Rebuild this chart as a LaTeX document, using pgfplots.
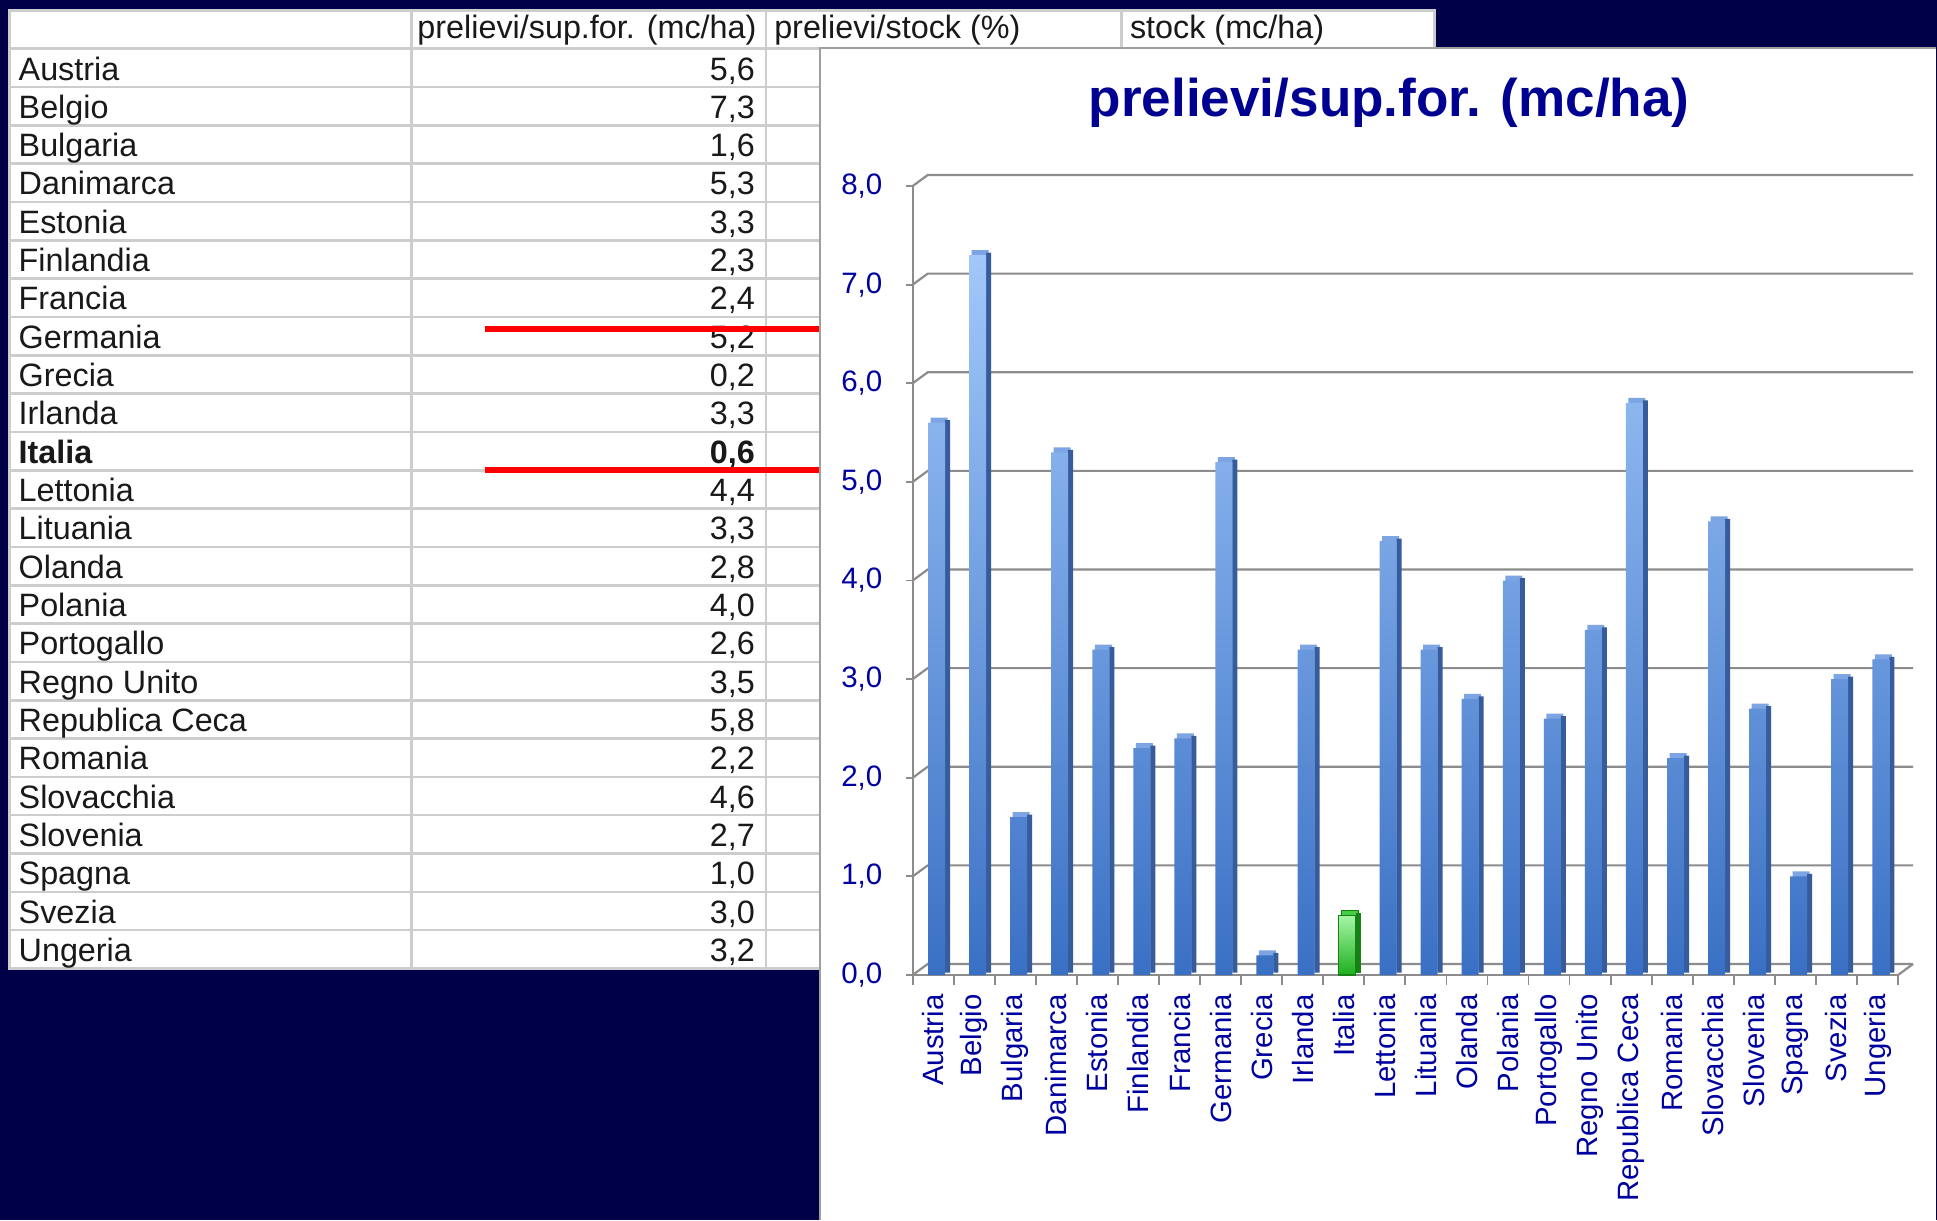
\documentclass[border=0pt]{standalone}
\usepackage{pgfplots}
\pgfplotsset{compat=1.18}
\usepackage{pgfplotstable}
\usepackage{fontspec}
\setmainfont{Liberation Sans}

\definecolor{bg}{RGB}{0,0,72}
\definecolor{navytxt}{RGB}{0,0,160}
\definecolor{titletxt}{RGB}{0,0,145}
\definecolor{gridc}{RGB}{140,140,140}
\definecolor{tline}{RGB}{205,205,205}
\definecolor{txt}{RGB}{25,25,25}
\definecolor{blight}{RGB}{162,200,250}
\definecolor{bdark}{RGB}{58,112,196}
\definecolor{bcap}{RGB}{125,165,228}
\definecolor{bside}{RGB}{55,92,155}
\definecolor{glight}{RGB}{165,245,165}
\definecolor{gdark}{RGB}{30,175,30}
\definecolor{gcap}{RGB}{70,205,70}
\definecolor{gside}{RGB}{20,130,20}

\pgfplotstableread{
x v
0 5.6
1 7.3
2 1.6
3 5.3
4 3.3
5 2.3
6 2.4
7 5.2
8 0.2
9 3.3
11 4.4
12 3.3
13 2.8
14 4.0
15 2.6
16 3.5
17 5.8
18 2.2
19 4.6
20 2.7
21 1.0
22 3.0
23 3.2
}\bluedata
\pgfplotstableread{
x v
10 0.6
}\greendata

\begin{document}
\begin{tikzpicture}
\useasboundingbox (0,0) rectangle (19.37cm,12.2cm);
\fill[bg] (0,0) rectangle (19.37cm,12.2cm);
\begin{scope}[x=0.01cm,y=0.01cm]
  % table
  \fill[white] (10,251.6) rectangle (1435,1210);
  \foreach \i in {0,...,23}
    \draw[tline, line width=0.025cm] (10,{1172-38.35*\i}) -- (1435,{1172-38.35*\i});
  \foreach \xx in {411.5,766.5,1122}
    \draw[tline, line width=0.025cm] (\xx,251.6) -- (\xx,1210);
  \draw[tline, line width=0.03cm] (10,251.6) rectangle (1435,1210);
  \begin{scope}[every node/.style={inner sep=0pt, text=txt, font=\fontsize{9.2pt}{11pt}\selectfont}]
    \node[anchor=base west] at (417,1182) {prelievi/sup.for. (mc/ha)};
    \node[anchor=base west] at (774,1182) {prelievi/stock (\%)};
    \node[anchor=base west] at (1130,1182) {stock (mc/ha)};
    \foreach \nm/\vl [count=\i from 0] in {Austria/5{,}6, Belgio/7{,}3, Bulgaria/1{,}6, Danimarca/5{,}3, Estonia/3{,}3, Finlandia/2{,}3, Francia/2{,}4, Germania/5{,}2, Grecia/0{,}2, Irlanda/3{,}3, \textbf{Italia}/\textbf{0{,}6}, Lettonia/4{,}4, Lituania/3{,}3, Olanda/2{,}8, Polania/4{,}0, Portogallo/2{,}6, Regno Unito/3{,}5, Republica Ceca/5{,}8, Romania/2{,}2, Slovacchia/4{,}6, Slovenia/2{,}7, Spagna/1{,}0, Svezia/3{,}0, Ungeria/3{,}2} {
      \node[anchor=base west] at (18,{1220-(48+38.35*(\i+1)-7)}) {\nm};
      \node[anchor=base east] at (756,{1220-(48+38.35*(\i+1)-7)}) {\vl};
    }
  \end{scope}
  % red lines
  \draw[red, line width=0.065cm] (485,{1220-328.5}) -- (821,{1220-328.5});
  \draw[red, line width=0.065cm] (485,{1220-469.5}) -- (821,{1220-469.5});
  % chart panel
  \fill[white] (820,0) rectangle (1937,1173);
  \draw[gray!75, line width=0.02cm] (820.5,0) -- (820.5,1173) -- (1937,1173);
  % title
  \node[anchor=base, inner sep=0pt, text=titletxt, font=\fontsize{15.1pt}{18pt}\selectfont\bfseries] at (1390,1104) {prelievi/sup.for. (mc/ha)};
\end{scope}

\begin{axis}[
  at={(9.127cm,2.45cm)}, anchor=south west,
  scale only axis, width=9.853cm, height=7.89cm,
  xmin=-0.5, xmax=23.5, ymin=0, ymax=8,
  axis lines*=left,
  axis line style={gridc, line width=0.02cm},
  clip=false,
  xtick={0,...,23},
  xticklabels={Austria,Belgio,Bulgaria,Danimarca,Estonia,Finlandia,Francia,Germania,Grecia,Irlanda,Italia,Lettonia,Lituania,Olanda,Polania,Portogallo,Regno Unito,Republica Ceca,Romania,Slovacchia,Slovenia,Spagna,Svezia,Ungeria},
  minor xtick={-0.5,0.5,...,23.5},
  ytick={0,1,...,8},
  tick align=outside,
  major tick length=0.07cm,
  minor tick length=0.1cm,
  tick style={gridc, line width=0.018cm},
  major x tick style={draw=none},
  /pgf/number format/fixed,
  /pgf/number format/fixed zerofill,
  /pgf/number format/precision=1,
  /pgf/number format/use comma,
  /pgf/number format/assume math mode=true,
  yticklabel style={font=\fontsize{8.4pt}{10pt}\selectfont, text=navytxt, xshift=-0.11cm},
  xticklabel style={font=\fontsize{8.35pt}{10pt}\selectfont, text=navytxt, rotate=90, anchor=east},
]
\pgfplotsinvokeforeach{0,...,8}{
  \draw[gridc, line width=0.022cm] (axis cs:-0.5,#1) -- ([shift={(0.15cm,0.11cm)}]axis cs:-0.5,#1) -- ([shift={(0.15cm,0.11cm)}]axis cs:23.5,#1);
}
\draw[gridc, line width=0.022cm] (axis cs:23.5,0) -- ([shift={(0.15cm,0.11cm)}]axis cs:23.5,0);

% blue bars: cap, side, front
\addplot[ybar, bar width=0.17cm, bar shift=0.058cm, yshift=0.05cm, fill=bcap, draw=none] table[x=x,y=v]{\bluedata};
\addplot[ybar, bar width=0.05cm, bar shift=0.143cm, yshift=0.025cm, fill=bside, draw=none] table[x=x,y=v]{\bluedata};
\addplot[ybar, bar width=0.17cm, bar shift=0.033cm, draw=none, top color=blight, bottom color=bdark] table[x=x,y=v]{\bluedata};
% green bar (Italia)
\addplot[ybar, bar width=0.17cm, bar shift=0.058cm, yshift=0.05cm, fill=gcap, draw=gside, line width=0.01cm] table[x=x,y=v]{\greendata};
\addplot[ybar, bar width=0.05cm, bar shift=0.143cm, yshift=0.025cm, fill=gside, draw=none] table[x=x,y=v]{\greendata};
\addplot[ybar, bar width=0.17cm, bar shift=0.033cm, draw=gside, line width=0.012cm, top color=glight, bottom color=gdark] table[x=x,y=v]{\greendata};
\end{axis}
\end{tikzpicture}
\end{document}
